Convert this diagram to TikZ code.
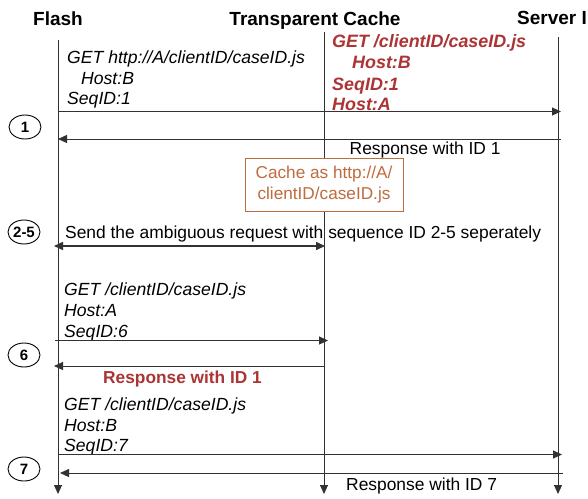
\documentclass[tikz,border=0pt]{standalone}
\usepackage{fontspec}
\setmainfont{Liberation Sans}
\usetikzlibrary{arrows.meta,shapes.geometric}
\definecolor{redtxt}{RGB}{172,52,52}
\definecolor{boxc}{RGB}{190,108,62}
\definecolor{linec}{RGB}{50,50,50}
\begin{document}
\begin{tikzpicture}[x=1pt,y=-1pt,
  tip/.style={-{Triangle[length=9pt,width=8pt]}},
  msg/.style={draw=linec, line width=0.9pt, tip},
  life/.style={draw=linec, line width=0.9pt, tip},
  head/.style={font=\fontsize{19}{21}\selectfont\bfseries, anchor=base, inner sep=0},
  itx/.style={font=\fontsize{17.6}{19}\selectfont\itshape, anchor=base west, inner sep=0},
  rtx/.style={font=\fontsize{17.9}{19}\selectfont\bfseries\itshape, text=redtxt, anchor=base west, inner sep=0},
  ptx/.style={font=\fontsize{17.4}{19}\selectfont, anchor=base west, inner sep=0},
  stepnum/.style={draw=black, line width=0.9pt, ellipse, minimum width=32pt, minimum height=24pt, inner sep=0, font=\fontsize{15}{16}\selectfont\bfseries},
  cachebox/.style={draw=boxc, fill=white, line width=0.9pt, minimum width=158pt, minimum height=53pt, inner sep=0, align=center, text=boxc, font=\fontsize{17.2}{21}\selectfont}
]
\useasboundingbox (0,0) rectangle (588,498);
\fill[white] (0,0) rectangle (588,498);

% headings
\node[head] (hF) at (58,25) {Flash};
\node[head] (hC) at (315,25) {Transparent Cache};
\node[head, anchor=base west] (hS) at (517,24) {Server I};

% lifeline coordinates
\coordinate (Ft) at (58,40);
\coordinate (Fb) at (58,494);
\coordinate (Ct) at (324,32);
\coordinate (Cb) at (324,494);
\coordinate (St) at (558,37);
\coordinate (Sb) at (558,494);
\draw[life] (Ft) -- (Fb);
\draw[life] (St) -- (Sb);

% cache box (drawn over the cache lifeline)
\draw[life] (Ct) -- (Cb);
\node[cachebox] (box) at (324,184.5) {Cache as http://A/\\clientID/caseID.js};

% step 1
\node[itx] (g1) at (67,63) {GET http://A/clientID/caseID.js};
\node[itx] (h1) at (81,84) {Host:B};
\node[itx] (s1) at (67,104) {SeqID:1};
\node[rtx] (r1) at (332,47) {GET /clientID/caseID.js};
\node[rtx] (r2) at (352,68) {Host:B};
\node[rtx] (r3) at (332,90) {SeqID:1};
\node[rtx] (r4) at (332,110) {Host:A};
\coordinate (a1s) at (58,111.5);
\coordinate (a1e) at (561,111.5);
\draw[msg] (a1s) -- (a1e);
\coordinate (b1s) at (561,139);
\coordinate (b1e) at (58,139);
\draw[msg] (b1s) -- (b1e);
\node[stepnum] (n1) at (25,127) {1};
\node[ptx] (resp1) at (349.5,154) {Response with ID 1};

% step 2-5
\node[stepnum] (n25) at (24,232) {2-5};
\node[ptx] (send) at (65,238) {Send the ambiguous request with sequence ID 2-5 seperately};
\coordinate (dA) at (54,246);
\coordinate (dB) at (325,246);
\draw[draw=linec, line width=1.5pt, {Triangle[length=9pt,width=8pt]}-{Triangle[length=9pt,width=8pt]}] (dA) -- (dB);

% step 6
\node[itx] (g6) at (64,295) {GET /clientID/caseID.js};
\node[itx] (h6) at (64,316) {Host:A};
\node[itx] (s6) at (64,337) {SeqID:6};
\coordinate (a6s) at (55,340.5);
\coordinate (a6e) at (328,340.5);
\draw[msg] (a6s) -- (a6e);
\coordinate (b6s) at (325,366);
\coordinate (b6e) at (54,366);
\draw[msg] (b6s) -- (b6e);
\node[stepnum] (n6) at (24,355) {6};
\node[rtx, font=\fontsize{17.3}{19}\selectfont\bfseries] (resp6) at (103,383) {Response with ID 1};

% step 7
\node[itx] (g7) at (64,410) {GET /clientID/caseID.js};
\node[itx] (h7) at (64,431) {Host:B};
\node[itx] (s7) at (64,451) {SeqID:7};
\coordinate (a7s) at (58,454.5);
\coordinate (a7e) at (562,454.5);
\draw[msg] (a7s) -- (a7e);
\coordinate (b7s) at (563,473);
\coordinate (b7e) at (60,473);
\draw[msg] (b7s) -- (b7e);
\node[stepnum] (n7) at (24,469) {7};
\node[ptx] (resp7) at (346,490) {Response with ID 7};
\end{tikzpicture}
\end{document}
